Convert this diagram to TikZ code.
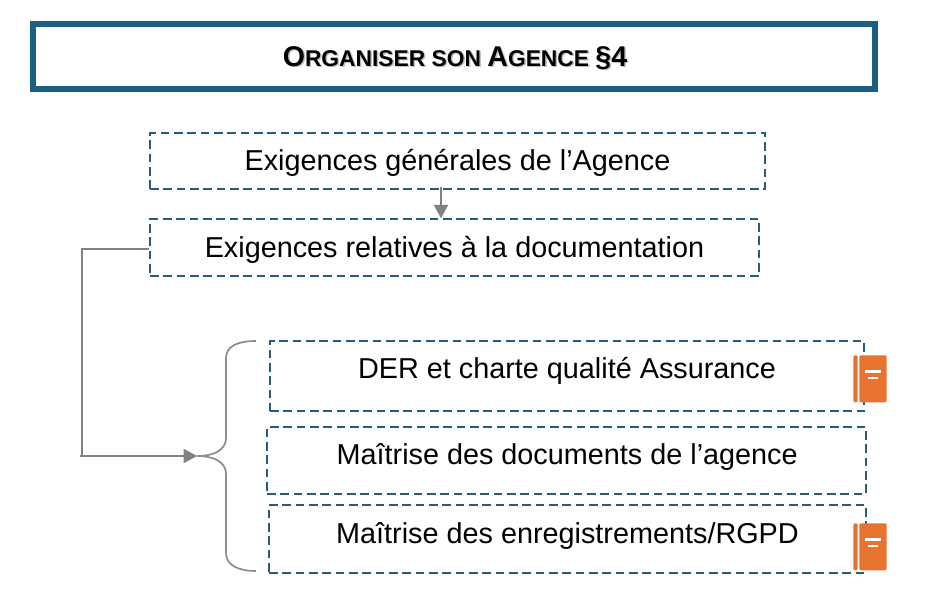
\documentclass[tikz,border=0pt]{standalone}
\usepackage{fontspec}
\setmainfont{Liberation Sans}
\usetikzlibrary{arrows.meta}
\definecolor{teal1}{HTML}{1B5E80}
\definecolor{dashc}{HTML}{255E7A}
\definecolor{conn}{HTML}{828282}
\definecolor{iconc}{HTML}{E8732F}
\newcommand{\boxtxt}[2]{\smash{\raisebox{#1}{#2}}}
\newcommand{\titlesc}{{\fontsize{21.4}{26}\selectfont O}{\fontsize{17.1}{22}\selectfont RGANISER SON }{\fontsize{21.4}{26}\selectfont A}{\fontsize{17.1}{22}\selectfont GENCE }{\fontsize{21.4}{26}\selectfont §4}}
\tikzset{
  x=0.75pt,y=-0.75pt,
  titlebox/.style={draw=teal1,line width=4.5pt,minimum width=631.5pt,minimum height=48.75pt,inner sep=0pt,font=\bfseries},
  dashbox/.style={draw=dashc,line width=1.2pt,dash pattern=on 6.4pt off 3.6pt,inner sep=0pt,font=\fontsize{21.6}{25}\selectfont,text=black},
  conline/.style={draw=conn,line width=1.3pt},
  contip/.style={-{Triangle[length=10pt,width=10.5pt]}},
  iconfill/.style={fill=iconc,draw=none,rounded corners=1pt},
  iconbar/.style={fill=white,draw=none},
}
\newcommand{\bookicon}[2]{%
  \fill[iconfill] (#1,#2) rectangle ++(4.4,47);
  \fill[iconfill] (#1+6,#2) rectangle ++(27.4,47);
  \fill[iconbar] (#1+11.4,#2+14.4) rectangle ++(16.3,3.6);
  \fill[iconbar] (#1+15,#2+21.4) rectangle ++(9.4,2.3);
}
\begin{document}
\begin{tikzpicture}
\useasboundingbox[fill=white] (0,0) rectangle (931,606);
\node[titlebox] (title) at (454,56.5) {\boxtxt{-7.5pt}{\hspace{1.5pt}\rlap{\hspace{1.1pt}\raisebox{-1.1pt}{\textcolor{black!25}{\titlesc}}}\titlesc}};
\node[dashbox,minimum width=461.25pt,minimum height=42pt] (gen) at (457.5,161) {\boxtxt{-7pt}{Exigences générales de l’Agence}};
\node[dashbox,minimum width=456.75pt,minimum height=42.75pt] (doc) at (454.5,247.5) {\boxtxt{-7.4pt}{Exigences relatives à la documentation}};
\node[dashbox,minimum width=445.5pt,minimum height=52.5pt] (der) at (567,376) {\boxtxt{-1.6pt}{DER et charte qualité Assurance}};
\node[dashbox,minimum width=449.25pt,minimum height=50.25pt] (mai) at (566.5,460.5) {\boxtxt{-3.3pt}{\hspace{1pt}Maîtrise des documents de l’agence}};
\node[dashbox,minimum width=447.75pt,minimum height=51pt] (enr) at (567.5,539) {\boxtxt{-3.6pt}{Maîtrise des enregistrements/RGPD}};
\coordinate (a1) at (441,186.7);
\coordinate (a2) at (441,218.3);
\draw[conline,contip] (a1) -- (a2);
\coordinate (elbow) at (82,456);
\coordinate (start) at (80,456);
\coordinate (tip) at (197,456);
\draw[conline] ([yshift=-1.1pt]doc.west) -| (elbow);
\draw[conline,contip] (start) -- (tip);
\coordinate (bt) at (256,341);
\coordinate (bb) at (256,571);
\draw[conline,draw=conn!90!white] (bt) .. controls (238,341) and (226,346) .. (226,358) -- (226,438)
  .. controls (226,450) and (214,456) .. (tip)
  .. controls (214,456) and (226,462) .. (226,474) -- (226,553)
  .. controls (226,565) and (238,571) .. (bb);
\bookicon{853.3}{355.3}
\bookicon{853.3}{523.3}
\end{tikzpicture}
\end{document}
